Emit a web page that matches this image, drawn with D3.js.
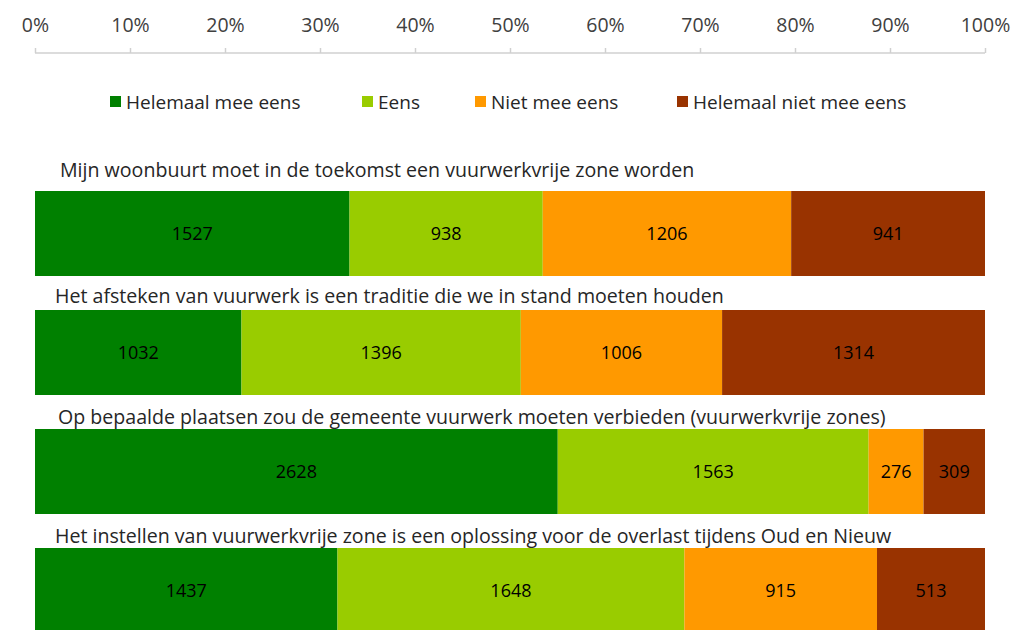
<!DOCTYPE html>
<html>
<head>
<meta charset="utf-8">
<script src="https://cdn.jsdelivr.net/npm/d3@7"></script>
<style>
	body { margin: 0; background: #fff; }
	svg text { font-family: "Open Sans", "Noto Sans", sans-serif; }
</style>
</head>
<body>
<div id="chart"></div>
<script>
;(function(){
	var w = 1013;
	var h = 630;

	var categories = ["Helemaal mee eens", "Eens", "Niet mee eens", "Helemaal niet mee eens"];
	var colors = ["#008000", "#99cc00", "#ff9900", "#993300"];

	var statements = [
		"Mijn woonbuurt moet in de toekomst een vuurwerkvrije zone worden",
		"Het afsteken van vuurwerk is een traditie die we in stand moeten houden",
		"Op bepaalde plaatsen zou de gemeente vuurwerk moeten verbieden (vuurwerkvrije zones)",
		"Het instellen van vuurwerkvrije zone is een oplossing voor de overlast tijdens Oud en Nieuw"
	];
	var helemaalMee = [1527, 1032, 2628, 1437];
	var eens = [938, 1396, 1563, 1648];
	var nietMee = [1206, 1006, 276, 915];
	var helemaalNiet = [941, 1314, 309, 513];

	var tickValues = [0, 0.1, 0.2, 0.3, 0.4, 0.5, 0.6, 0.7, 0.8, 0.9, 1];

	// rows in a shape the stack can use
	var rows = statements.map(function(s, i){
		var vals = [helemaalMee[i], eens[i], nietMee[i], helemaalNiet[i]];
		return { name: s, values: vals };
	});

	var barTop = 191;
	var barStep = 119;
	var barH = 85;

	var xscale = d3.scaleLinear().domain([0, 1]).range([35, 985]);
	var yscale = d3.scaleBand()
		.domain(d3.range(rows.length))
		.range([barTop, barTop + (rows.length - 1) * barStep + barH])
		.paddingInner((barStep - barH) / barStep)
		.paddingOuter(0);

	var stack = d3.stack()
		.keys(d3.range(categories.length))
		.value(function(d, k){ return d.values[k]; })
		.offset(d3.stackOffsetExpand);
	var series = stack(rows);

	var svg = d3.select("#chart").append("svg")
		.attr("width", w)
		.attr("height", h);

	// top axis
	var axisY = 53;
	var xaxis = d3.axisTop(xscale)
		.tickValues(tickValues)
		.tickSize(5)
		.tickFormat(d3.format(".0%"));
	var ax = svg.append("g")
		.attr("transform", "translate(0," + axisY + ")")
		.call(xaxis);
	ax.select(".domain").attr("stroke", "#d0d0d0").attr("stroke-width", 1.5)
		.attr("d", "M" + xscale(0) + ",0H" + xscale(1));
	ax.selectAll(".tick line").attr("stroke", "#d0d0d0").attr("stroke-width", 1.5);
	ax.selectAll(".tick text")
		.attr("y", -21)
		.attr("fill", "#404040")
		.style("font-size", "19.5px");

	// legend
	var legendX = [110, 362, 475, 677];
	var lg = svg.selectAll("g.legend")
		.data(categories)
		.enter().append("g")
			.attr("class", "legend")
			.attr("transform", function(d, i){ return "translate(" + legendX[i] + ",102)"; });
	lg.append("rect")
		.attr("x", 0)
		.attr("y", -6)
		.attr("width", 11)
		.attr("height", 11)
		.attr("fill", function(d, i){ return colors[i]; });
	lg.append("text")
		.attr("x", 16)
		.attr("dy", "0.35em")
		.attr("fill", "#262626")
		.style("font-size", "19px")
		.text(function(d){ return d; });

	// statement titles (baselines)
	var titleX = [60, 55, 58, 55];
	var titleBase = [177, 303, 424, 543];
	svg.selectAll("text.title")
		.data(rows)
		.enter().append("text")
			.attr("class", "title")
			.attr("x", function(d, i){ return titleX[i]; })
			.attr("y", function(d, i){ return titleBase[i]; })
			.attr("fill", "#262626")
			.style("font-size", "19.6px")
			.text(function(d){ return d.name; });

	// bars
	var groups = svg.selectAll("g.series")
		.data(series)
		.enter().append("g")
			.attr("class", "series")
			.attr("fill", function(d, i){ return colors[i]; });

	groups.selectAll("rect")
		.data(function(d){ return d; })
		.enter().append("rect")
			.attr("x", function(d){ return xscale(d[0]); })
			.attr("y", function(d, i){ return yscale(i); })
			.attr("width", function(d){ return xscale(d[1]) - xscale(d[0]); })
			.attr("height", yscale.bandwidth());

	groups.selectAll("text")
		.data(function(d){ return d.map(function(p){ return { p: p, key: d.key }; }); })
		.enter().append("text")
			.attr("x", function(d){ return (xscale(d.p[0]) + xscale(d.p[1])) / 2; })
			.attr("y", function(d, i){ return yscale(i) + yscale.bandwidth() / 2; })
			.attr("dy", "0.35em")
			.attr("text-anchor", "middle")
			.attr("fill", "#000")
			.style("font-size", "18px")
			.text(function(d){ return d.p.data.values[d.key]; });
})();
</script>
</body>
</html>
